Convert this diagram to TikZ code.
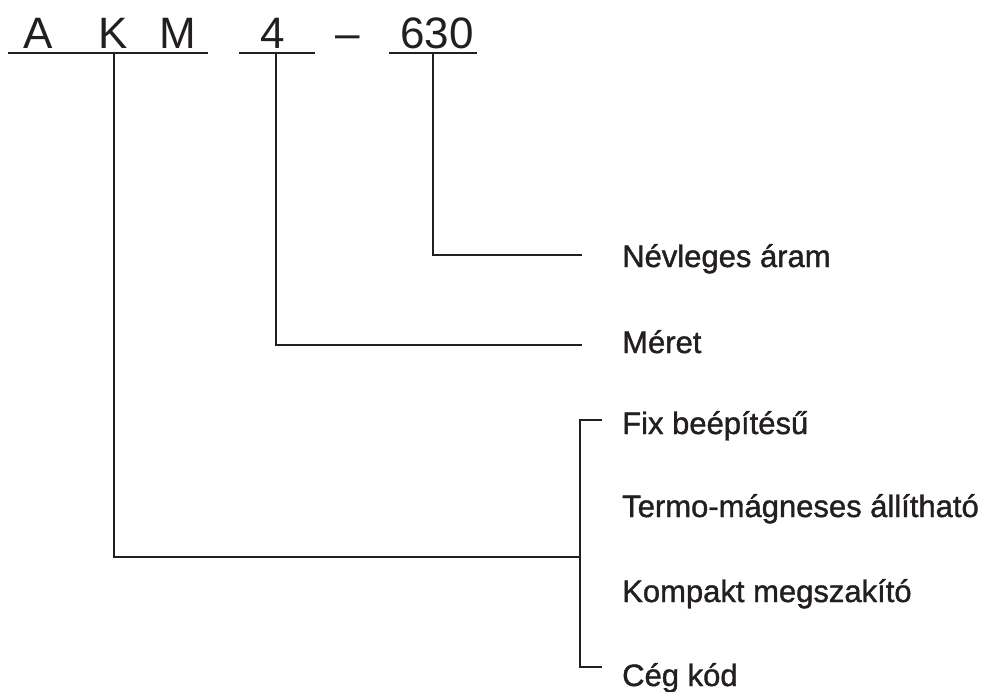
\documentclass[tikz,border=0pt]{standalone}
\usepackage{fontspec}
\setmainfont{Liberation Sans}
\newfontfamily\lblfont{Liberation Sans}[FakeBold=1.2]
\definecolor{ink}{HTML}{231F20}
\begin{document}
\begin{tikzpicture}[x=1pt,y=-1pt,
  code/.style={anchor=base,inner sep=0pt,text=ink,font=\fontsize{44}{50}\selectfont},
  lbl/.style={anchor=base west,inner sep=0pt,text=ink,font=\lblfont\fontsize{31}{36}\selectfont},
  ln/.style={line width=2pt,ink}]
\useasboundingbox (0,0) rectangle (992,691);
% code letters
\node[code] (A) at (38,48) {A};
\node[code] (K) at (113,48) {K};
\node[code] (M) at (178,48) {M};
\node[code] (four) at (273,48) {4};
\node[code] (dash) at (348,48) {–};
\node[code] (num) at (437,48) {630};
% underlines
\coordinate (u1a) at (8,53); \coordinate (u1b) at (208,53);
\coordinate (u2a) at (239,53); \coordinate (u2b) at (315,53);
\coordinate (u3a) at (389,53); \coordinate (u3b) at (477,53);
\draw[ln] (u1a) -- (u1b);
\draw[ln] (u2a) -- (u2b);
\draw[ln] (u3a) -- (u3b);
% labels
\node[lbl] (nevl) at (622,267) {Névleges áram};
\node[lbl] (meret) at (622,353) {Méret};
\node[lbl] (fix) at (622,434) {Fix beépítésű};
\node[lbl] (termo) at (622,517) {Termo-mágneses állítható};
\node[lbl] (komp) at (622,602) {Kompakt megszakító};
\node[lbl] (ceg) at (622,686) {Cég kód};
% connectors
\coordinate (k0) at (114,53);
\coordinate (f0) at (276,53);
\coordinate (n0) at (433,53);
\coordinate (nE) at (582,255);
\coordinate (mE) at (582,345);
\draw[ln] (n0) |- (nE);
\draw[ln] (f0) |- (mE);
\coordinate (bT) at (602,420);
\coordinate (bB) at (602,667);
\coordinate (bJ) at (580,557);
\draw[ln] (bT) -| (bJ) |- (bB);
\draw[ln] (k0) |- (bJ);
\end{tikzpicture}
\end{document}
